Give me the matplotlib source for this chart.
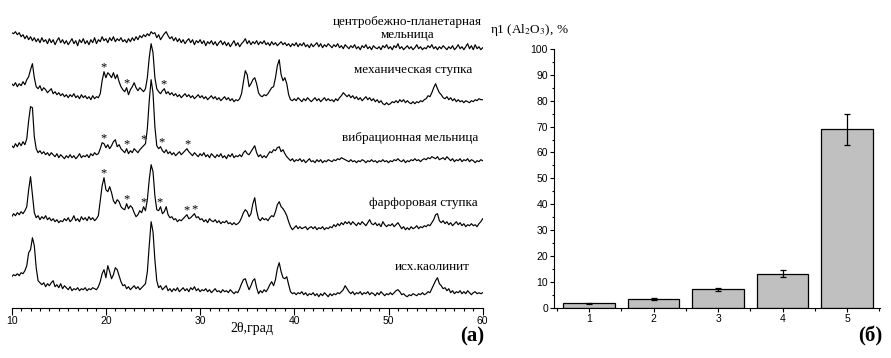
import matplotlib
matplotlib.use('Agg')
import matplotlib.pyplot as plt
from matplotlib.ticker import MultipleLocator
import numpy as np

plt.rcParams['font.family'] = ['Liberation Serif', 'DejaVu Serif']
plt.rcParams['mathtext.fontset'] = 'stix'

# diffractograms, 2theta from 10 to 60 deg with 0.2 deg step
two_theta = np.linspace(10, 60, 251)

centrifugal = [
	20, 19, 21, 18, 20, 16, 18, 14, 17, 13,
	16, 12, 15, 11, 14, 10, 15, 11, 13, 9,
	14, 10, 13, 8, 12, 15, 10, 13, 9, 12,
	8, 11, 14, 9, 12, 7, 13, 10, 14, 9,
	12, 8, 13, 10, 15, 9, 13, 11, 16, 12,
	14, 10, 15, 12, 16, 11, 14, 12, 15, 11,
	13, 10, 14, 11, 15, 12, 16, 13, 17, 15,
	18, 16, 19, 17, 21, 19, 20, 15, 18, 13,
	16, 19, 21, 17, 14, 16, 12, 15, 11, 14,
	10, 13, 9, 12, 14, 10, 13, 8, 12, 10,
	13, 9, 12, 7, 11, 9, 12, 8, 11, 7,
	10, 12, 8, 11, 7, 10, 6, 9, 12, 7,
	10, 6, 9, 11, 14, 9, 12, 8, 11, 9,
	12, 8, 11, 9, 12, 8, 10, 7, 11, 8,
	10, 7, 9, 11, 8, 10, 7, 9, 6, 9,
	7, 10, 6, 9, 7, 10, 6, 8, 5, 9,
	6, 8, 10, 6, 9, 5, 8, 6, 9, 7,
	5, 8, 6, 9, 5, 7, 4, 8, 6, 4,
	7, 5, 8, 4, 6, 3, 7, 5, 8, 4,
	6, 3, 7, 5, 4, 6, 3, 7, 5, 8,
	4, 6, 3, 7, 5, 9, 4, 6, 3, 5,
	7, 4, 6, 3, 5, 8, 4, 6, 3, 5,
	4, 7, 5, 8, 4, 6, 3, 6, 4, 7,
	5, 3, 6, 4, 7, 3, 5, 8, 4, 6,
	3, 6, 9, 4, 7, 3, 8, 4, 6, 3,
	5]

mechanical = [
	24, 22, 25, 21, 24, 22, 26, 23, 28, 31,
	38, 44, 30, 21, 19, 22, 17, 20, 18, 15,
	17, 19, 14, 16, 13, 15, 12, 14, 11, 13,
	10, 13, 11, 14, 10, 12, 9, 13, 10, 12,
	9, 11, 8, 12, 9, 11, 10, 14, 27, 36,
	30, 35, 33, 30, 35, 29, 33, 26, 21, 18,
	16, 20, 13, 18, 21, 25, 20, 17, 20, 18,
	16, 19, 30, 50, 64, 55, 30, 19, 16, 14,
	17, 19, 14, 16, 13, 15, 12, 14, 11, 13,
	10, 12, 14, 11, 13, 10, 12, 9, 11, 13,
	10, 12, 9, 11, 8, 10, 12, 9, 11, 8,
	10, 7, 9, 11, 8, 10, 7, 9, 6, 8,
	7, 9, 14, 26, 37, 33, 21, 24, 28, 30,
	24, 15, 12, 11, 13, 12, 14, 17, 20, 21,
	30, 42, 48, 33, 27, 30, 24, 13, 8, 7,
	9, 7, 10, 8, 6, 9, 7, 10, 8, 6,
	8, 10, 7, 9, 6, 8, 10, 7, 9, 7,
	8, 6, 9, 7, 10, 12, 15, 13, 11, 13,
	10, 12, 9, 11, 8, 10, 7, 9, 11, 8,
	10, 7, 9, 6, 8, 5, 7, 4, 3, 5,
	3, 4, 6, 5, 7, 5, 8, 6, 8, 5,
	7, 5, 4, 6, 4, 6, 5, 7, 6, 8,
	9, 12, 11, 15, 20, 24, 19, 15, 13, 10,
	9, 11, 8, 10, 7, 9, 6, 8, 6, 7,
	5, 7, 6, 5, 7, 6, 8, 7, 9, 8,
	8]

vibration = [
	17, 15, 19, 16, 20, 17, 21, 18, 24, 42,
	56, 55, 26, 14, 10, 12, 9, 11, 8, 10,
	7, 10, 8, 6, 9, 5, 8, 6, 4, 7,
	5, 8, 5, 7, 4, 6, 9, 5, 7, 6,
	8, 5, 9, 7, 10, 8, 9, 14, 20, 19,
	15, 18, 14, 17, 21, 23, 16, 18, 14, 12,
	10, 14, 9, 12, 10, 14, 12, 10, 13, 15,
	17, 19, 34, 62, 83, 70, 36, 17, 14, 16,
	12, 10, 13, 9, 11, 8, 10, 7, 9, 11,
	8, 10, 12, 14, 11, 9, 7, 10, 8, 6,
	9, 7, 10, 6, 8, 5, 9, 7, 5, 8,
	6, 9, 5, 7, 4, 8, 6, 9, 5, 7,
	6, 8, 6, 10, 12, 9, 8, 11, 14, 17,
	10, 6, 8, 5, 7, 5, 8, 11, 10, 13,
	12, 15, 16, 11, 13, 9, 6, 4, 2, 4,
	1, 3, 2, 4, 1, 3, 0, 2, 4, 1,
	2, 0, 3, 1, 3, 0, 2, 1, 3, 2,
	1, 3, 2, 4, 3, 5, 4, 3, 2, 1,
	3, 1, 2, 0, 2, 1, 3, 2, 0, 2,
	1, 3, 1, 2, 0, 2, 1, 3, 1, 2,
	0, 2, 1, 3, 2, 4, 2, 1, 3, 0,
	2, 1, 3, 2, 4, 2, 3, 1, 3, 4,
	3, 5, 4, 6, 5, 4, 6, 3, 4, 5,
	3, 6, 4, 2, 4, 1, 3, 2, 4, 1,
	3, 2, 4, 1, 3, 2, 0, 2, 1, 3,
	2]

porcelain = [
	11, 14, 12, 15, 13, 16, 14, 17, 21, 38,
	51, 33, 15, 10, 12, 8, 11, 9, 12, 8,
	10, 7, 9, 6, 8, 5, 7, 6, 9, 7,
	10, 6, 8, 12, 7, 9, 6, 11, 8, 10,
	7, 11, 8, 10, 7, 9, 12, 27, 42, 50,
	38, 36, 41, 35, 27, 24, 28, 26, 21, 19,
	18, 24, 19, 22, 20, 15, 11, 13, 17, 15,
	21, 17, 28, 48, 63, 56, 32, 18, 17, 21,
	14, 16, 21, 13, 10, 11, 8, 9, 6, 8,
	7, 9, 11, 13, 9, 10, 12, 14, 10, 11,
	8, 9, 6, 8, 5, 9, 7, 6, 8, 5,
	7, 4, 6, 5, 7, 4, 5, 3, 5, 3,
	4, 6, 10, 15, 18, 16, 11, 14, 24, 30,
	17, 9, 7, 10, 8, 9, 7, 10, 12, 11,
	16, 23, 26, 21, 19, 16, 12, 6, 1, -2,
	0, 2, -1, 1, -1, 0, 1, -2, 0, 1,
	-1, 1, -2, 0, -1, 1, -2, 0, -1, 1,
	0, 3, 1, 4, 2, 5, 3, 6, 4, 6,
	3, 6, 4, 2, 5, 3, 6, 4, 2, 5,
	8, 4, 3, 5, 2, 4, 1, 6, 3, 1,
	3, 2, 4, 1, 3, 5, 2, -1, 1, -2,
	0, -2, 1, -1, 0, 2, -1, 1, 0, 2,
	1, 3, 2, 5, 8, 13, 14, 7, 5, 7,
	4, 6, 3, 5, 2, 4, 6, 3, 5, 2,
	4, 1, 3, 2, 4, 2, 3, 1, 4, 6,
	9]

kaolinite = [
	21, 23, 22, 24, 22, 25, 24, 27, 32, 45,
	48, 60, 52, 30, 17, 15, 13, 15, 11, 14,
	12, 15, 17, 11, 13, 10, 14, 9, 12, 10,
	8, 11, 7, 9, 8, 10, 7, 9, 8, 10,
	7, 9, 8, 10, 9, 8, 11, 16, 24, 28,
	20, 32, 26, 19, 23, 30, 28, 22, 16, 12,
	13, 9, 11, 8, 10, 12, 9, 11, 8, 10,
	12, 14, 26, 52, 76, 66, 38, 17, 10, 12,
	8, 10, 12, 7, 9, 6, 9, 7, 10, 6,
	8, 10, 7, 9, 6, 10, 8, 11, 7, 9,
	6, 8, 7, 9, 6, 8, 5, 7, 9, 6,
	7, 5, 8, 6, 7, 5, 8, 6, 4, 6,
	5, 9, 14, 18, 19, 13, 8, 12, 17, 19,
	10, 4, 7, 5, 8, 6, 9, 13, 16, 12,
	18, 29, 35, 26, 20, 19, 21, 13, 6, 4,
	5, 3, 5, 4, 6, 3, 5, 2, 4, 3,
	5, 2, 4, 1, 4, 2, 5, 3, 1, 4,
	2, 4, 3, 5, 4, 6, 8, 12, 9, 6,
	4, 6, 3, 5, 4, 6, 3, 5, 4, 6,
	3, 5, 4, 2, 5, 3, 6, 4, 2, 4,
	3, 5, 3, 5, 7, 8, 6, 3, 4, 2,
	1, 3, 2, 4, 3, 2, 4, 3, 5, 3,
	4, 6, 5, 9, 13, 17, 20, 14, 12, 9,
	10, 7, 9, 5, 7, 4, 6, 5, 7, 4,
	6, 4, 7, 5, 3, 5, 6, 4, 5, 4,
	5]

traces = [centrifugal, mechanical, vibration, porcelain, kaolinite]
offsets = [255, 200, 145, 80, 10]
names = ['центробежно-планетарная\nмельница', 'механическая ступка',
	'вибрационная мельница', 'фарфоровая ступка', 'исх.каолинит']

# impurity reflections marked with *
stars_mechanical = [19.7, 22.2, 26.1]
stars_vibration = [19.7, 22.2, 24.0, 25.9, 28.7]
stars_porcelain = [19.7, 22.2, 24.0, 25.7, 28.6, 29.4]

# Al2O3 extraction degree for samples 1-5
samples = [1, 2, 3, 4, 5]
eta = [1.7, 3.2, 7.1, 13.1, 69.0]
eta_err = [0.3, 0.4, 0.7, 1.3, 6.0]


def star_height(trace, offset, pos):
	near = np.abs(two_theta - pos) <= 0.21
	return np.max(np.array(trace)[near]) + offset + 4


def draw_xrd(ax):
	for trace, off in zip(traces, offsets):
		ax.plot(two_theta, np.array(trace) + off, color='black', lw=0.85)

	marks = [(mechanical, 200, stars_mechanical),
		(vibration, 145, stars_vibration),
		(porcelain, 80, stars_porcelain)]
	for trace, off, positions in marks:
		for pos in positions:
			ax.text(pos, star_height(trace, off, pos), '*', fontsize=9,
				ha='center', va='center')

	label_x = [52.0, 52.6, 52.3, 53.7, 54.7]
	label_y = [279.5, 238, 170, 105, 41]
	for name, lx, ly in zip(names, label_x, label_y):
		ax.text(lx, ly, name, fontsize=9.5, ha='center', va='center',
			multialignment='center', linespacing=1.1)

	ax.set_xlim(10, 60)
	ax.set_ylim(0, 307.7)
	for side in ['left', 'right', 'top']:
		ax.spines[side].set_visible(False)
	ax.set_yticks([])
	ax.xaxis.set_major_locator(MultipleLocator(10))
	ax.xaxis.set_minor_locator(MultipleLocator(1))
	ax.tick_params(axis='x', which='major', direction='out', length=4.7,
		width=0.8, pad=1.0, labelsize=7.5, labelfontfamily='Liberation Sans')
	ax.tick_params(axis='x', which='minor', direction='out', length=2.4, width=0.8)
	ax.set_xlabel('2θ,град', fontsize=10)
	ax.xaxis.set_label_coords(0.51, -0.045)


def draw_bars(ax):
	ax.bar(samples, eta, width=0.8, color='#c0c0c0', edgecolor='black', lw=0.9)
	ax.errorbar(samples, eta, yerr=eta_err, fmt='none', ecolor='black',
		elinewidth=0.9, capsize=2.5, capthick=0.9)

	ax.set_xlim(0.46, 5.51)
	ax.set_ylim(0, 100)
	for side in ['right', 'top']:
		ax.spines[side].set_visible(False)
	ax.xaxis.set_major_locator(MultipleLocator(1))
	ax.xaxis.set_minor_locator(MultipleLocator(0.5))
	ax.yaxis.set_major_locator(MultipleLocator(10))
	ax.yaxis.set_minor_locator(MultipleLocator(5))
	ax.tick_params(which='major', direction='out', length=3, width=0.8, pad=1.5,
		labelsize=7.5, labelfontfamily='Liberation Sans')
	ax.tick_params(which='minor', direction='out', length=1.8, width=0.8)
	ax.text(-0.197, 1.073, r'η1 (Al$_2$O$_3$), %', transform=ax.transAxes,
		fontsize=9.5, ha='left', va='center')


fig = plt.figure(figsize=(8.91, 3.58), dpi=100)

ax_xrd = fig.add_axes([11.7 / 891, 50.3 / 358, 471 / 891, 307.7 / 358])
draw_xrd(ax_xrd)

ax_bar = fig.add_axes([554.3 / 891, 50.3 / 358, 325.7 / 891, 258.7 / 358])
draw_bars(ax_bar)

fig.text(472 / 891, 1 - 336 / 358, '(а)', fontsize=15, fontweight='bold',
	ha='center', va='center')
fig.text(870 / 891, 1 - 336 / 358, '(б)', fontsize=15, fontweight='bold',
	ha='center', va='center')

fig.savefig('out.png', dpi=100)
